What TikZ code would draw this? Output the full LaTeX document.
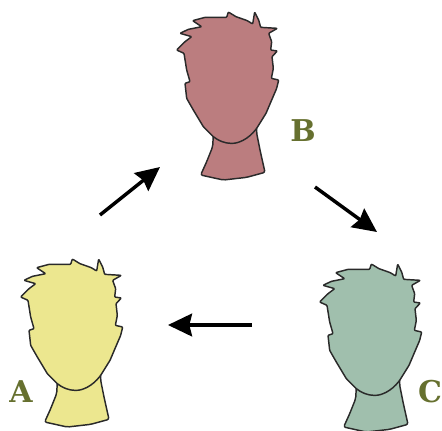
\documentclass[tikz,border=0pt]{standalone}
\usepackage{fontspec}
\setmainfont{DejaVu Serif}
\usetikzlibrary{arrows.meta}
\definecolor{labelolive}{HTML}{66702F}
\definecolor{headrose}{HTML}{BB7D7F}
\definecolor{headyellow}{HTML}{ECE78F}
\definecolor{headsage}{HTML}{A0BFAD}
\definecolor{inkdark}{HTML}{2A2A2A}
\tikzset{
  headline/.style={draw=inkdark,line width=1.1pt,line join=round},
  flow/.style={draw=black,line width=2.6pt,-{Stealth[length=18pt,width=17pt,inset=2pt]}},
  letter/.style={font=\bfseries\fontsize{22.5}{24}\selectfont,text=labelolive,inner sep=0pt,anchor=center},
  pics/person/.style={code={
    \begin{scope}[x=0.25pt,y=-0.25pt]
    % neck and shoulders
    \path[headline,fill=#1,rounded corners=1.5pt] (160,405) -- (158,440) -- (140,485) -- (122,525) -- (190,540) -- (260,532) -- (315,517) -- (300,450) -- (290,400) -- (290,380) -- cycle;
    % hair and face
    \path[headline,fill=#1] [rounded corners=0.6pt]
      (98,62) -- (135,52) -- (200,52) -- (205,36) -- (228,50) -- (262,62) -- (278,72) -- (284,36) -- (296,60) -- (302,82)
      -- (352,85) -- (326,100) -- (335,125) -- (332,150) -- (352,153) -- (336,170) -- (340,205) -- (334,235) -- (356,240)
      -- (350,265) -- (335,300) -- (318,340) -- (290,385)
      .. controls (265,418) and (235,430) .. (215,430)
      .. controls (195,430) and (175,422) .. (160,410)
      -- (130,380) -- (100,330) -- (80,295) -- (75,250) -- (90,245) -- (80,210) -- (72,160) -- (50,150) -- (75,125)
      -- (95,110) -- (60,100) -- (85,88) -- (125,80) -- cycle;
    \end{scope}
  }}
}
\begin{document}
\begin{tikzpicture}[x=0.75pt,y=-0.75pt]
\useasboundingbox (0,0) rectangle (442,430);
\pic (headb) at (160,0) {person=headrose};
\pic (heada) at (4,247) {person=headyellow};
\pic (headc) at (303,252) {person=headsage};
\node[letter] (labelb) at (303,131) {B};
\node[letter] (labela) at (21,392) {A};
\node[letter] (labelc) at (430,392) {C};
\coordinate (a1) at (100,215);
\coordinate (a2) at (160,167);
\coordinate (b1) at (315,187);
\coordinate (b2) at (377,232);
\coordinate (c1) at (252,325);
\coordinate (c2) at (168,325);
\draw[flow] (a1) -- (a2);
\draw[flow] (b1) -- (b2);
\draw[flow] (c1) -- (c2);
\end{tikzpicture}
\end{document}
